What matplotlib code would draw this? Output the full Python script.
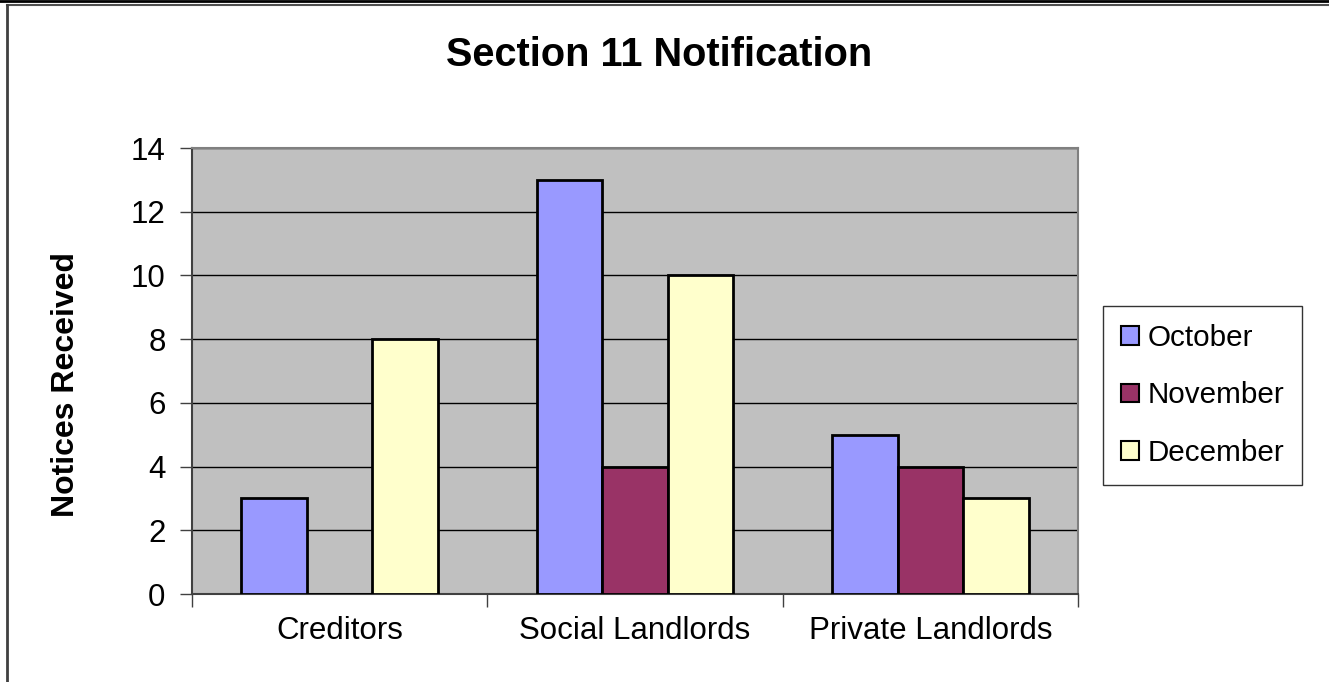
import numpy as np
import matplotlib.pyplot as plt
from matplotlib.lines import Line2D

plt.rcParams['font.family'] = ['Liberation Sans', 'DejaVu Sans']

categories = ['Creditors', 'Social Landlords', 'Private Landlords']
months = ['October', 'November', 'December']
october = [3, 13, 5]
november = [0, 4, 4]
december = [8, 10, 3]
colors = ['#9999FF', '#993366', '#FFFFCC']

fig = plt.figure(figsize=(13.29, 6.82), dpi=100)
ax = fig.add_axes([192 / 1329, 1 - 594 / 682, (1078 - 192) / 1329, (594 - 148) / 682])
ax.set_facecolor('#C0C0C0')

x = np.arange(len(categories))
w = 1 / 4.5
for i, (vals, lab, c) in enumerate(zip([october, november, december], months, colors)):
    ax.bar(x + (i - 1) * w, vals, w, color=c, edgecolor='black', linewidth=2,
           label=lab, zorder=3)

ax.set_xlim(-0.5, 2.5)
ax.set_ylim(0, 14)
ax.set_yticks(range(0, 15, 2))
ax.yaxis.grid(True, color='black', linewidth=1, zorder=1)
ax.set_axisbelow(True)

ax.set_xticks([-0.5, 0.5, 1.5, 2.5])
ax.set_xticklabels([])
ax.set_xticks(x, minor=True)
ax.set_xticklabels(categories, minor=True)
ax.tick_params(axis='x', which='minor', length=0, pad=16, labelsize=22.5)
ax.tick_params(axis='x', which='major', length=9, width=1, color='#404040')
ax.tick_params(axis='y', length=9, width=1, color='#404040', labelsize=22.5, pad=10)

for s in ['top', 'right']:
    ax.spines[s].set_color('#808080')
    ax.spines[s].set_linewidth(1.5)
for s in ['left', 'bottom']:
    ax.spines[s].set_color('#404040')
    ax.spines[s].set_linewidth(1.5)

fig.text(66 / 1329, 1 - 385 / 682, 'Notices Received', fontsize=23, fontweight='bold',
         rotation=90, ha='center', va='center')
fig.text(659 / 1329, 1 - 55 / 682, 'Section 11 Notification', fontsize=28.6,
         fontweight='bold', ha='center', va='center')

leg = ax.legend(loc='upper left', bbox_to_anchor=(1103 / 1329, 1 - 306 / 682),
                bbox_transform=fig.transFigure, borderaxespad=0, fontsize=21.3,
                frameon=True, fancybox=False, edgecolor='black', handlelength=0.6,
                handleheight=0.6, handletextpad=0.3, labelspacing=1.0,
                borderpad=0.6)
leg.get_frame().set_linewidth(1)
for h in leg.legend_handles:
    h.set_linewidth(1.5)

# outer chart border
fig.add_artist(Line2D([0, 1], [1 - 1 / 682, 1 - 1 / 682], transform=fig.transFigure,
                      color='black', linewidth=2))
fig.add_artist(Line2D([6.5 / 1329, 1], [1 - 5 / 682, 1 - 5 / 682], transform=fig.transFigure,
                      color='#505050', linewidth=1.5))
fig.add_artist(Line2D([6.5 / 1329, 6.5 / 1329], [0, 1 - 5 / 682], transform=fig.transFigure,
                      color='#404040', linewidth=2))

fig.savefig('out.png', dpi=100)
